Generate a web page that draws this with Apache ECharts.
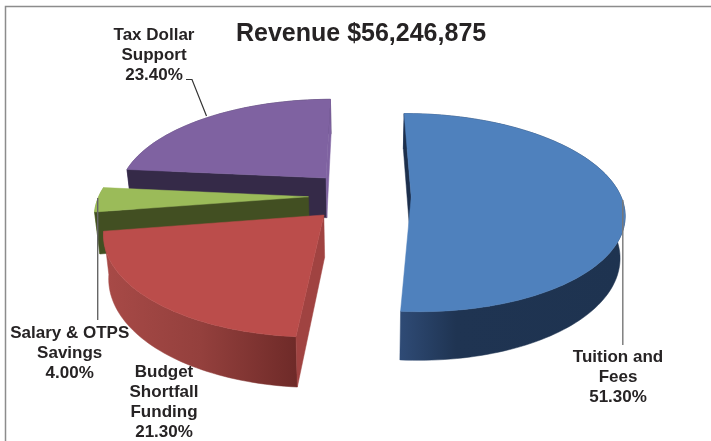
<!DOCTYPE html>
<html>
<head>
<meta charset="utf-8">
<title>Revenue</title>
<script src="https://cdn.jsdelivr.net/npm/echarts@6/dist/echarts.min.js"></script>
<style>
  html, body { margin: 0; padding: 0; background: #fff; }
  #chart { width: 711px; height: 441px; }
</style>
</head>
<body>
<div id="chart"></div>
<script>
// values
const chartTitle = 'Revenue $56,246,875';
const categories = ['Tuition and\nFees', 'Budget\nShortfall\nFunding', 'Salary & OTPS\nSavings', 'Tax Dollar\nSupport'];
const shares = [51.30, 21.30, 4.00, 23.40];

// per slice look: colours and how far it is pulled out of the pie
const sliceStyles = [
  { top: '#4f81bd', cut: '#1c2f4c', wall: ['#2f4b76', '#1f3452', '#1e3350'], wallMid: 0.25, offset: [46.2, 0] },
  { top: '#bb4d4b', cut: '#a04341', wall: ['#a84a47', '#94403d', '#6e2a28'], wallMid: 0.5, offset: [-40, -38] },
  { top: '#9bbb59', cut: '#424f22', wall: ['#8aa650', '#8aa650', '#8aa650'], wallMid: 0.5, offset: [-56.5, 0.6] },
  { top: '#7f62a1', cut: '#352a48', wall: ['#5d4878', '#4a3a60', '#352a48'], wallMid: 0.5, offset: [-40.2, 42.6] }
];
// draw the far slices first
const drawOrder = [3, 2, 1, 0];

// camera used to fake the 3D pie
const radius = 210;
const vanishX = 365;
const vanishY = 197;
const squash = 0.46;
const perspective = 0.00075;
const depth = 41;
const depthShrink = 0.02;
const startAngle = -0.25;

function project(wx, wy, down) {
  const w0 = 1 + perspective * wy;
  const w = w0 * (1 + (down ? depthShrink : 0));
  return [vanishX + wx / w, vanishY - squash * wy / w0 + (down ? depth / w0 : 0)];
}

function sliceAngles(index) {
  const total = shares.reduce((a, b) => a + b, 0);
  let from = startAngle;
  for (let i = 0; i < index; i++) from += shares[i] / total * 360;
  return [from, from + shares[index] / total * 360];
}

function arcPoints(offset, from, to, down) {
  const pts = [];
  const steps = Math.max(2, Math.ceil((to - from) / 1.5));
  for (let i = 0; i <= steps; i++) {
    const a = (from + (to - from) * i / steps) * Math.PI / 180;
    pts.push(project(offset[0] + radius * Math.sin(a), offset[1] + radius * Math.cos(a), down));
  }
  return pts;
}

// signed area on screen, tells if a cut face looks at the viewer
function signedArea(points) {
  let sum = 0;
  points.forEach((p, i) => {
    const q = points[(i + 1) % points.length];
    sum += p[0] * q[1] - q[0] * p[1];
  });
  return sum;
}

function renderSlice(params, api) {
  const index = api.value(0);
  const look = sliceStyles[index];
  const [from, to] = sliceAngles(index);
  const apexTop = project(look.offset[0], look.offset[1], false);
  const apexLow = project(look.offset[0], look.offset[1], true);
  const arcTop = arcPoints(look.offset, from, to, false);
  const arcLow = arcPoints(look.offset, from, to, true);
  const last = arcTop.length - 1;
  const poly = (points, fill) => ({
    type: 'polygon',
    shape: { points: points },
    style: { fill: fill, stroke: fill, lineWidth: 0.5 }
  });
  const startCut = [apexTop, arcTop[0], arcLow[0], apexLow];
  const endCut = [apexTop, arcTop[last], arcLow[last], apexLow];
  const children = [
    poly(arcTop.concat(arcLow.slice().reverse()), new echarts.graphic.LinearGradient(0, 0, 1, 0, [
      { offset: 0, color: look.wall[0] },
      { offset: look.wallMid, color: look.wall[1] },
      { offset: 1, color: look.wall[2] }
    ]))
  ];
  if (signedArea(startCut) < 0) children.push(poly(startCut, look.cut));
  if (signedArea(endCut) > 0) children.push(poly(endCut, index === 3 ? look.top : look.cut));
  children.push(poly([apexTop].concat(arcTop), look.top));
  return { type: 'group', children: children };
}

function labelText(i) {
  return categories[i] + '\n' + shares[i].toFixed(2) + '%';
}

const labelStyle = { fill: '#262324', font: 'bold 17px "Liberation Sans", Arial, sans-serif', align: 'center', lineHeight: 20 };
const labelPlaces = [[618, 347], [164, 362], [69.7, 323], [154, 25]];

const chart = echarts.init(document.getElementById('chart'), null, { renderer: 'canvas' });
chart.setOption({
  animation: false,
  backgroundColor: '#fff',
  title: {
    text: chartTitle,
    left: 236,
    top: 22,
    padding: 0,
    textStyle: { color: '#262324', fontFamily: '"Liberation Sans", Arial, sans-serif', fontWeight: 'bold', fontSize: 25 }
  },
  series: [{
    type: 'custom',
    coordinateSystem: 'none',
    clip: false,
    data: drawOrder.map(i => [i, shares[i]]),
    renderItem: renderSlice,
    silent: true,
    z: 2
  }],
  graphic: {
    elements: [
      // frame of the slide, only top and left show
      { type: 'polyline', z: 1, shape: { points: [[5.5, 441], [5.5, 6.5], [711, 6.5]] }, style: { stroke: '#8c8c8c', lineWidth: 1.5, fill: null } },
      // leader lines
      { type: 'polyline', z: 10, shape: { points: [[186, 79.5], [192, 79.5], [206.5, 116]] }, style: { stroke: '#333', lineWidth: 1.2, fill: null } },
      { type: 'line', z: 10, shape: { x1: 97.7, y1: 198, x2: 97.7, y2: 320 }, style: { stroke: '#666', lineWidth: 1.4 } },
      { type: 'line', z: 10, shape: { x1: 622.8, y1: 200, x2: 622.8, y2: 345 }, style: { stroke: '#777', lineWidth: 1.4 } }
    ].concat(labelPlaces.map((p, i) => ({
      type: 'text',
      z: 11,
      x: p[0],
      y: p[1],
      style: Object.assign({ text: labelText(i) }, labelStyle)
    })))
  }
});
</script>
</body>
</html>
